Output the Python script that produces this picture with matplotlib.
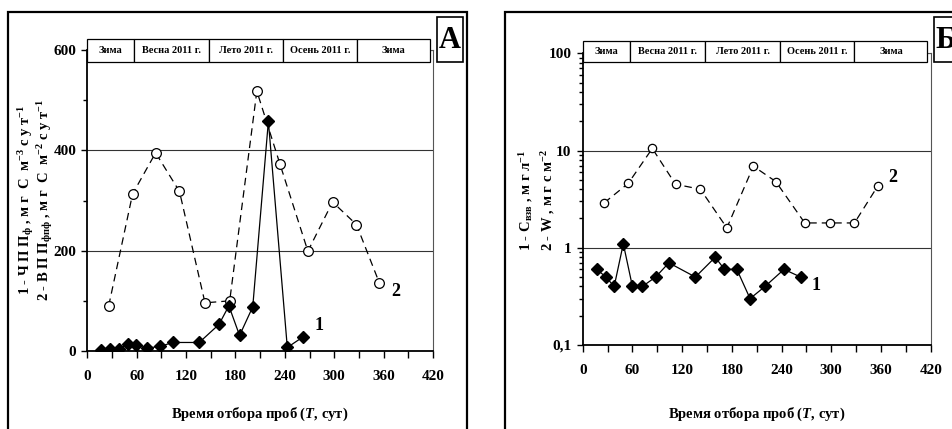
import numpy as np
import matplotlib
matplotlib.use('Agg')
import matplotlib.pyplot as plt
import matplotlib.transforms as mtransforms
from matplotlib.patches import Rectangle
from matplotlib.ticker import MultipleLocator, LogLocator, NullFormatter, FuncFormatter

plt.rcParams['font.family'] = 'Liberation Serif'
plt.rcParams['font.weight'] = 'bold'
plt.rcParams['mathtext.fontset'] = 'custom'
plt.rcParams['mathtext.rm'] = 'Liberation Serif:bold'
plt.rcParams['mathtext.it'] = 'Liberation Serif:bold:italic'
plt.rcParams['mathtext.bf'] = 'Liberation Serif:bold'

# панель А: 1 - ЧПП, 2 - ВПП
t_a1 = [17, 28, 38, 49, 59, 73, 88, 104, 136, 160, 172, 185, 201, 220, 243, 262]
pp_a1 = [2, 3, 4, 13, 11, 6, 9, 17, 17, 53, 90, 31, 88, 458, 7, 28]
t_a2 = [26, 55, 83, 112, 143, 173, 206, 234, 268, 298, 327, 355]
pp_a2 = [90, 313, 395, 318, 96, 100, 518, 373, 199, 297, 252, 135]

# панель Б: 1 - Свзв, 2 - W
t_b1 = [17, 28, 38, 49, 60, 72, 88, 104, 136, 160, 171, 186, 202, 220, 243, 263]
c_b1 = [0.6, 0.5, 0.4, 1.1, 0.4, 0.4, 0.5, 0.7, 0.5, 0.8, 0.6, 0.6, 0.3, 0.4, 0.6, 0.5]
t_b2 = [26, 55, 84, 112, 142, 174, 206, 233, 268, 298, 328, 356]
w_b2 = [2.9, 4.6, 10.5, 4.5, 4.0, 1.6, 6.9, 4.8, 1.8, 1.8, 1.8, 4.3]

seasons = ['Зима', 'Весна 2011 г.', 'Лето 2011 г.', 'Осень 2011 г.', 'Зима']
season_edges = [0, 57, 148, 238, 328, 416]

W, H = 952, 429
fig = plt.figure(figsize=(W / 100, H / 100), dpi=100)


def px(x0, y0, x1, y1):
    # pixel box -> figure fraction rect
    return [x0 / W, 1 - y1 / H, (x1 - x0) / W, (y1 - y0) / H]


def frame(x0, y0, x1, y1, lw=1.6):
    fig.patches.append(Rectangle((x0 / W, 1 - y1 / H), (x1 - x0) / W, (y1 - y0) / H,
                                 transform=fig.transFigure, fill=False,
                                 edgecolor='black', linewidth=lw))


def header(ax, y0, y1):
    tr = mtransforms.blended_transform_factory(ax.transData, ax.transAxes)
    for name, a, b in zip(seasons, season_edges[:-1], season_edges[1:]):
        ax.add_patch(Rectangle((a, y0), b - a, y1 - y0, transform=tr, clip_on=False,
                               facecolor='white', edgecolor='black', linewidth=0.9, zorder=10))
        ax.text((a + b) / 2, (y0 + y1) / 2, name, transform=tr, ha='center', va='center',
                fontsize=7.5, zorder=11, clip_on=False)


def style(ax):
    ax.set_xlim(0, 420)
    ax.xaxis.set_major_locator(MultipleLocator(60))
    ax.xaxis.set_minor_locator(MultipleLocator(30))
    ax.tick_params(axis='x', which='both', direction='out', length=5, width=1, labelsize=11, pad=9)
    ax.tick_params(axis='y', which='major', direction='out', length=4, width=1, labelsize=11, pad=4)
    ax.tick_params(axis='y', which='minor', direction='out', length=3, width=1)
    for s in ['left', 'bottom']:
        ax.spines[s].set_linewidth(1.3)
    for s in ['right', 'top']:
        ax.spines[s].set_linewidth(0.8)
        ax.spines[s].set_color('#555555')
    ax.grid(True, axis='y', which='major', color='#333333', linewidth=0.8)
    ax.set_axisbelow(True)


def series(ax, t1, v1, t2, v2, ms2):
    ax.plot(t2, v2, color='black', linewidth=0.9, dashes=(6, 4), marker='o', markersize=ms2,
            markerfacecolor='white', markeredgecolor='black', markeredgewidth=0.9, zorder=3)
    ax.plot(t1, v1, color='black', linewidth=0.9, marker='D', markersize=6.3,
            markerfacecolor='black', markeredgecolor='black', zorder=4)


# ---- панель А ----
frame(8, 12, 467, 460)
axA = fig.add_axes(px(87.3, 50, 433, 351))
style(axA)
axA.set_ylim(0, 600)
axA.yaxis.set_major_locator(MultipleLocator(200))
axA.yaxis.set_minor_locator(MultipleLocator(100))
series(axA, t_a1, pp_a1, t_a2, pp_a2, 7)
header(axA, 0.960, 1.0365)
axA.text(282, 51, '1', fontsize=13, ha='center', va='center')
axA.text(375, 119, '2', fontsize=13, ha='center', va='center')
axA.text(0.5, -0.209, r'Время отбора проб ($\mathit{T}$, сут)', transform=axA.transAxes,
         ha='center', va='center', fontsize=10.5)
fig.text(26 / W, 1 - 200 / H,
         r'1 - Ч П П$_{\mathrm{ф}}$ , м г  С  м$^{-3}$ с у т$^{-1}$',
         rotation=90, ha='center', va='center', fontsize=10.5)
fig.text(45 / W, 1 - 200 / H,
         r'2 - В П П$_{\mathrm{фпф}}$ , м г  С  м$^{-2}$ с у т$^{-1}$',
         rotation=90, ha='center', va='center', fontsize=10.5)
fig.patches.append(Rectangle((437 / W, 1 - 62 / H), 26 / W, 45 / H, transform=fig.transFigure,
                             facecolor='white', edgecolor='black', linewidth=1.2))
fig.text(450 / W, 1 - 40 / H, 'А', ha='center', va='center', fontsize=22)

# ---- панель Б ----
frame(505, 12, 990, 460)
axB = fig.add_axes(px(582.7, 53.3, 930.7, 345))
style(axB)
axB.set_yscale('log')
axB.set_ylim(0.1, 100)
axB.yaxis.set_major_locator(LogLocator(base=10))
axB.yaxis.set_minor_locator(LogLocator(base=10, subs=np.arange(2, 10)))
axB.yaxis.set_minor_formatter(NullFormatter())
axB.yaxis.set_major_formatter(FuncFormatter(lambda v, p: ('%g' % v).replace('.', ',')))
series(axB, t_b1, c_b1, t_b2, w_b2, 6)
header(axB, 0.971, 1.043)
axB.text(282, 0.41, '1', fontsize=13, ha='center', va='center')
axB.text(374, 5.3, '2', fontsize=13, ha='center', va='center')
axB.text(0.5, -0.2365, r'Время отбора проб ($\mathit{T}$, сут)', transform=axB.transAxes,
         ha='center', va='center', fontsize=10.5)
fig.text(526 / W, 1 - 200 / H, r'1 - C$_{\mathrm{в з в}}$ , м г л$^{-1}$',
         rotation=90, ha='center', va='center', fontsize=10.5)
fig.text(548 / W, 1 - 200 / H, r'2 - W , м г с м$^{-2}$',
         rotation=90, ha='center', va='center', fontsize=10.5)
fig.patches.append(Rectangle((934 / W, 1 - 62 / H), 40 / W, 45 / H, transform=fig.transFigure,
                             facecolor='white', edgecolor='black', linewidth=1.2))
fig.text(946 / W, 1 - 40 / H, 'Б', ha='center', va='center', fontsize=22)

fig.savefig('out.png', dpi=100)
